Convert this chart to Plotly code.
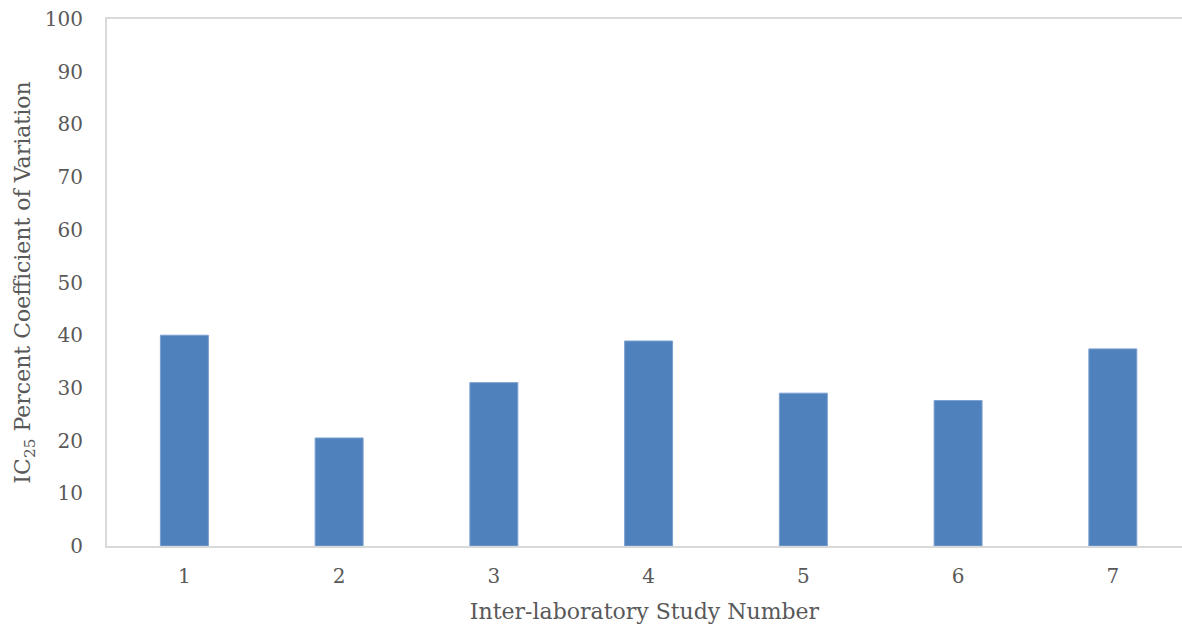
import plotly.graph_objects as go

studies = [1, 2, 3, 4, 5, 6, 7]
cv_values = [40.0, 20.5, 31.0, 38.9, 29.0, 27.6, 37.4]
y_ticks = list(range(0, 101, 10))

font_family = "DejaVu Serif"
text_color = "#595959"

fig = go.Figure(
    go.Bar(
        x=studies,
        y=cv_values,
        width=0.31,
        marker=dict(color="#4F81BD", line=dict(color="#7BA0CF", width=1)),
    )
)

fig.update_layout(
    width=1182,
    height=628,
    margin=dict(l=107, r=0, t=19, b=82, autoexpand=False),
    plot_bgcolor="white",
    paper_bgcolor="white",
    showlegend=False,
    font=dict(family=font_family, color=text_color, size=20),
)

fig.update_xaxes(
    range=[0.5, 7.447],
    tickvals=studies,
    ticktext=[str(s) for s in studies],
    showgrid=False,
    zeroline=False,
    showline=True,
    mirror=True,
    linecolor="#D9D9D9",
    linewidth=2,
    ticks="",
    automargin=False,
    ticklabelstandoff=11,
    tickfont=dict(size=20, color=text_color),
    title=dict(text="Inter-laboratory Study Number", font=dict(size=22, color=text_color), standoff=17),
)

fig.update_yaxes(
    range=[0, 100],
    tickvals=y_ticks,
    showgrid=False,
    zeroline=False,
    showline=True,
    linecolor="#D9D9D9",
    linewidth=2,
    ticks="",
    automargin=False,
    ticklabelstandoff=18,
    tickfont=dict(size=20, color=text_color),
    title=dict(text="IC<sub>25</sub> Percent Coefficient of Variation", font=dict(size=22, color=text_color), standoff=8),
)

post = (
    "document.body.style.margin='0px';"
    "document.body.style.padding='0px';"
    "document.documentElement.style.overflow='hidden';"
)

fig.write_html("out.html", post_script=post, config={"displayModeBar": False})
